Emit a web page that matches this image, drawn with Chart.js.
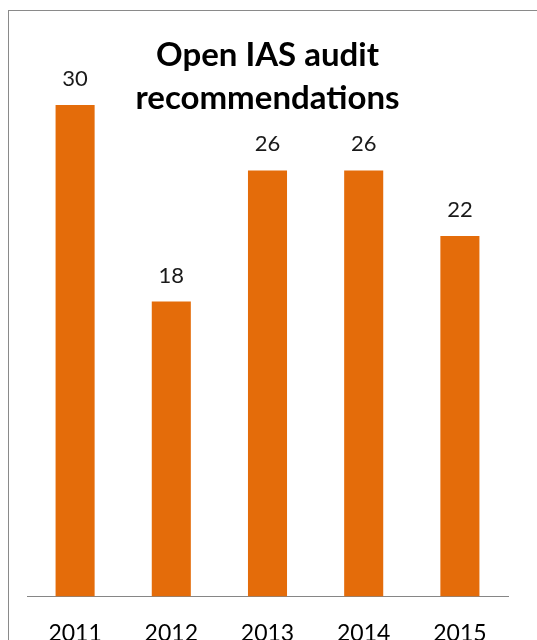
<!DOCTYPE html>
<html>
<head>
<meta charset="utf-8">
<script src="https://cdn.jsdelivr.net/npm/chart.js@4/dist/chart.umd.min.js"></script>
<style>
  html, body { margin: 0; padding: 0; background: #fff; overflow: hidden; }
  #wrap { position: relative; width: 537px; height: 640px; overflow: hidden; }
  #frame { position: absolute; left: 8px; top: 10px; width: 700px; height: 800px;
           border-left: 1px solid #8a8a8a; border-top: 1px solid #8a8a8a; box-sizing: border-box; }
  #c { position: absolute; left: 0; top: 0; }
</style>
</head>
<body>
<div id="wrap">
  <div id="frame"></div>
  <canvas id="c" width="537" height="680"></canvas>
</div>
<script>
const categories = ["2011", "2012", "2013", "2014", "2015"];
const recommendations = [30, 18, 26, 26, 22];
const titleLines = ["Open IAS audit", "recommendations"];

const overlayPlugin = {
  id: 'overlay',
  afterDatasetsDraw(chart) {
    const ctx = chart.ctx;
    const meta = chart.getDatasetMeta(0);
    ctx.save();
    ctx.fillStyle = '#1a1a1a';
    ctx.font = '22px Lato';
    ctx.textAlign = 'center';
    ctx.textBaseline = 'alphabetic';
    meta.data.forEach((bar, i) => {
      ctx.fillText(String(chart.data.datasets[0].data[i]), bar.x, bar.y - 19);
    });
    ctx.fillStyle = '#000';
    ctx.font = 'bold 33px Lato';
    const cx = (chart.chartArea.left + chart.chartArea.right) / 2;
    ctx.fillText(titleLines[0], cx, 66);
    ctx.fillText(titleLines[1], cx, 109);
    ctx.restore();
  }
};

new Chart(document.getElementById('c'), {
  type: 'bar',
  data: {
    labels: categories,
    datasets: [{
      data: recommendations,
      backgroundColor: '#E46C0A',
      borderWidth: 0,
      categoryPercentage: 1,
      barPercentage: 0.406
    }]
  },
  options: {
    responsive: false,
    animation: false,
    layout: { padding: { left: 27, right: 29, top: 23, bottom: 10 } },
    plugins: { legend: { display: false }, title: { display: false }, tooltip: { enabled: false } },
    scales: {
      x: {
        grid: { display: false, drawTicks: false },
        border: { display: true, color: '#868686', width: 1 },
        ticks: { color: '#000', font: { family: 'Lato', size: 23 }, padding: 23 }
      },
      y: {
        display: false,
        min: 0,
        max: 35
      }
    }
  },
  plugins: [overlayPlugin]
});
</script>
</body>
</html>
